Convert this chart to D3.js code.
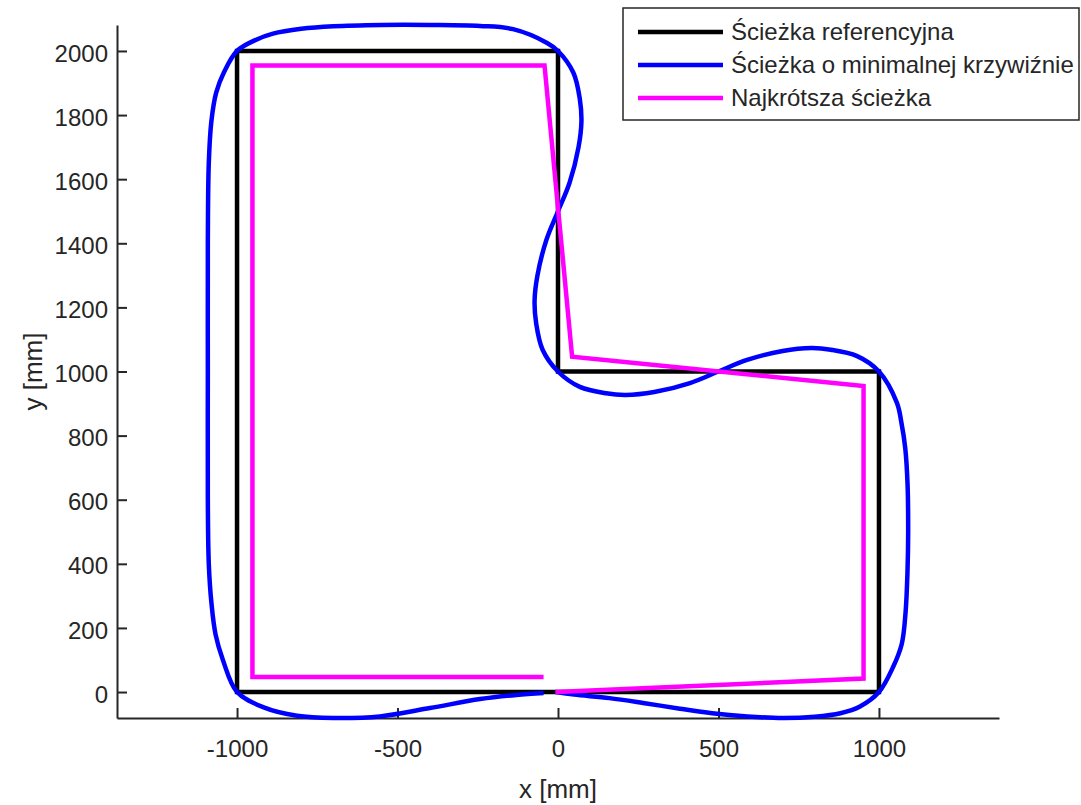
<!DOCTYPE html>
<html>
<head>
<meta charset="utf-8">
<script src="https://cdn.jsdelivr.net/npm/d3@7"></script>
<style>
  body { margin: 0; background: #fff; }
  text { font-family: "Liberation Sans", Arial, sans-serif; fill: #262626; }
</style>
</head>
<body>
<div id="chart"></div>
<script>
// Dimensions of the figure
const width = 1081;
const height = 805;

// --- Data (mm) ---
// reference path (black)
const refX = [0, 1000, 1000, 0, 0, -1000, -1000, 0];
const refY = [0, 0, 1000, 1000, 2000, 2000, 0, 0];

// minimal curvature path (blue)
const curvX = [-8, 50, 160, 265, 380, 480, 590, 700, 800, 880, 941, 1000, 1044, 1071, 1083, 1089, 1091, 1089, 1082, 1070, 1056, 1000,
  932, 850, 790, 700, 589, 500, 411, 300, 210, 150, 68, 0,
  -48, -68, -73, -64, -36, 0, 36, 64, 73, 68, 48, 0,
  -34, -140, -243, -400, -550, -700, -800, -888, -945, -1000,
  -1040, -1065, -1080, -1088, -1091, -1091, -1091, -1088, -1080, -1067, -1044, -1000,
  -919, -813, -700, -555, -399, -243, -130, -45];
const curvY = [0, -8, -19, -34, -52, -66, -76, -81, -77, -66, -45, 0, 78, 150, 250, 380, 500, 650, 760, 840, 902, 1000,
  1048, 1068, 1073, 1064, 1036, 1000, 964, 936, 927, 932, 952, 1000,
  1068, 1150, 1220, 1300, 1411, 1500, 1589, 1700, 1780, 1850, 1932, 2000,
  2025, 2068, 2078, 2081, 2081, 2077, 2069, 2054, 2033, 2000,
  1935, 1870, 1780, 1650, 1400, 1000, 600, 400, 280, 180, 100, 0,
  -47, -74, -81, -76, -50, -22, -9, -3];

// shortest path (magenta)
const shortX = [-8, 952, 952, 44, -42, -952, -952, -45];
const shortY = [0, 42, 955, 1046, 1955, 1955, 47, 47];

// ticks
const xTicks = [-1000, -500, 0, 500, 1000];
const yTicks = [0, 200, 400, 600, 800, 1000, 1200, 1400, 1600, 1800, 2000];

// legend
const seriesNames = ["Ścieżka referencyjna", "Ścieżka o minimalnej krzywiźnie", "Najkrótsza ścieżka"];
const seriesColors = ["#000000", "#0000ff", "#ff00ff"];

// --- Scales (axis equal) ---
const plot = { left: 117, right: 999, top: 25, bottom: 718 };
const x = d3.scaleLinear().domain([-1374, 1374]).range([plot.left, plot.right]);
const y = d3.scaleLinear().domain([-81, 2081]).range([plot.bottom, plot.top]);

const svg = d3.select("#chart")
    .append("svg")
    .attr("width", width)
    .attr("height", height);

// --- Axes ---
const fmt = d => String(d);
const xAxis = svg.append("g")
    .attr("transform", `translate(0,${plot.bottom})`)
    .call(d3.axisBottom(x).tickValues(xTicks).tickFormat(fmt).tickSizeInner(-10).tickSizeOuter(0).tickPadding(22));
const yAxis = svg.append("g")
    .attr("transform", `translate(${plot.left},0)`)
    .call(d3.axisLeft(y).tickValues(yTicks).tickFormat(fmt).tickSizeInner(-10).tickSizeOuter(0).tickPadding(9));

[xAxis, yAxis].forEach(g => {
    g.select(".domain").attr("stroke", "#262626").attr("stroke-width", 2);
    g.selectAll(".tick line").attr("stroke", "#262626").attr("stroke-width", 2);
    g.selectAll(".tick text")
        .attr("font-size", 24)
        .attr("font-family", "Liberation Sans, Arial, sans-serif")
        .attr("fill", "#262626");
});
yAxis.selectAll(".tick text").attr("dy", "0.42em");

// axis labels
svg.append("text")
    .attr("x", x(0))
    .attr("y", 798)
    .attr("text-anchor", "middle")
    .attr("font-size", 26)
    .text("x [mm]");

svg.append("text")
    .attr("transform", `translate(42,${(plot.top + plot.bottom) / 2}) rotate(-90)`)
    .attr("text-anchor", "middle")
    .attr("font-size", 26)
    .text("y [mm]");

// --- Lines ---
const toPts = (xs, ys) => xs.map((v, i) => [v, ys[i]]);

const straight = d3.line().x(d => x(d[0])).y(d => y(d[1]));
const smooth = d3.line().x(d => x(d[0])).y(d => y(d[1])).curve(d3.curveCatmullRom.alpha(0.5));

svg.append("path")
    .attr("d", straight(toPts(refX, refY)))
    .attr("fill", "none")
    .attr("stroke", seriesColors[0])
    .attr("stroke-width", 4.5)
    .attr("stroke-linejoin", "miter");

svg.append("path")
    .attr("d", smooth(toPts(curvX, curvY)))
    .attr("fill", "none")
    .attr("stroke", seriesColors[1])
    .attr("stroke-width", 4.5);

svg.append("path")
    .attr("d", straight(toPts(shortX, shortY)))
    .attr("fill", "none")
    .attr("stroke", seriesColors[2])
    .attr("stroke-width", 4.5)
    .attr("stroke-linejoin", "miter");

// --- Legend ---
const legend = svg.append("g");
legend.append("rect")
    .attr("x", 623)
    .attr("y", 8)
    .attr("width", 456)
    .attr("height", 112)
    .attr("fill", "#fff")
    .attr("stroke", "#262626")
    .attr("stroke-width", 1.5);

const row = legend.selectAll("g.row")
    .data(seriesNames)
    .join("g")
    .attr("class", "row")
    .attr("transform", (d, i) => `translate(0,${32 + i * 33})`);

row.append("line")
    .attr("x1", 638)
    .attr("x2", 723)
    .attr("stroke", (d, i) => seriesColors[i])
    .attr("stroke-width", 4.5);

row.append("text")
    .attr("x", 731)
    .attr("y", 8)
    .attr("font-size", 24)
    .text(d => d);
</script>
</body>
</html>
